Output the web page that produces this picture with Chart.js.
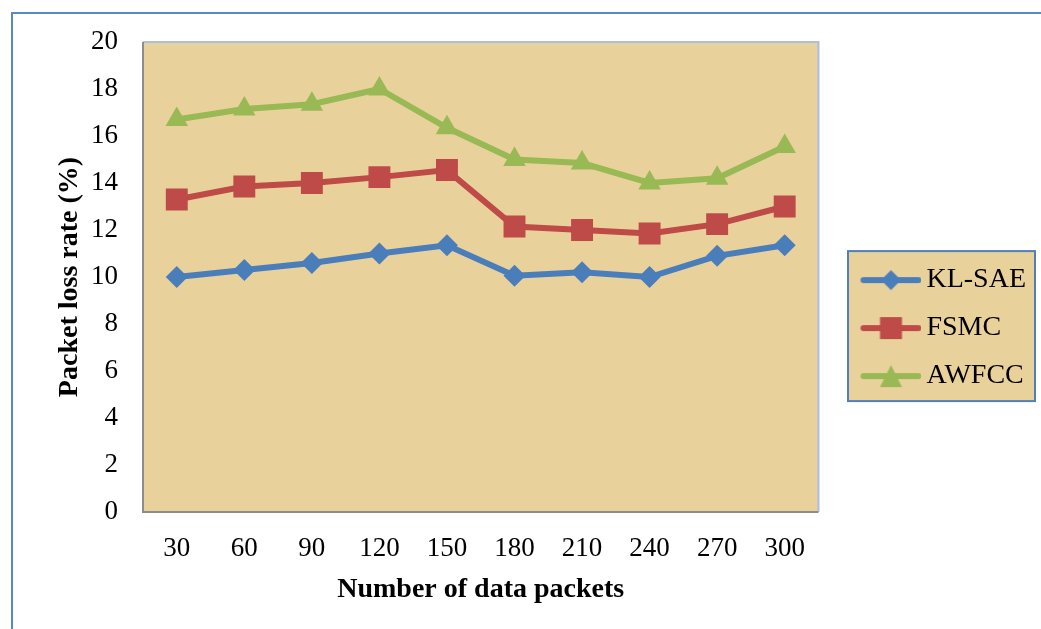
<!DOCTYPE html>
<html>
<head>
<meta charset="utf-8">
<script src="https://cdn.jsdelivr.net/npm/chart.js@4.4.0/dist/chart.umd.min.js"></script>
<style>
  html, body { margin: 0; padding: 0; background: #fff; }
  #wrap { position: relative; width: 1041px; height: 629px; }
  #frame { position: absolute; left: 11px; top: 12px; right: -10px; bottom: -10px;
           border-left: 2px solid #5a88c6; border-top: 2px solid #5a88c6; pointer-events: none; }
  canvas { position: absolute; left: 0; top: 0; }
</style>
</head>
<body>
<div id="wrap">
  <canvas id="lossChart" width="1041" height="629"></canvas>
  <div id="frame"></div>
</div>
<script>
// data
var packets = ['30', '60', '90', '120', '150', '180', '210', '240', '270', '300'];
var klSae = [10.0, 10.3, 10.6, 11.0, 11.35, 10.05, 10.2, 10.0, 10.9, 11.35];
var fsmc = [13.3, 13.85, 14.0, 14.25, 14.55, 12.15, 12.0, 11.85, 12.25, 13.0];
var awfcc = [16.7, 17.15, 17.35, 18.0, 16.35, 15.0, 14.85, 14.0, 14.2, 15.55];
var yTicks = [0, 2, 4, 6, 8, 10, 12, 14, 16, 18, 20];

var BLUE = '#4a7ebb', RED = '#be4b48', GREEN = '#98b954';
var FONT = 'Liberation Serif';
var PAPER = '#e9d19c';

// legend symbol: line with the marker in the middle (left part of image left blank on purpose)
function legendSymbol(color, style) {
    var c = document.createElement('canvas');
    c.width = 92; c.height = 26;
    var g = c.getContext('2d');
    g.strokeStyle = color; g.fillStyle = color;
    g.lineWidth = 6; g.lineCap = 'round';
    g.beginPath(); g.moveTo(34, 13); g.lineTo(89, 13); g.stroke();
    var cx = 61.5;
    g.beginPath();
    if (style === 'diamond') {
        g.moveTo(cx, 3); g.lineTo(cx + 10, 13); g.lineTo(cx, 23); g.lineTo(cx - 10, 13);
    } else if (style === 'square') {
        g.rect(cx - 11, 2, 22, 22);
    } else {
        g.moveTo(cx, 2); g.lineTo(cx + 11, 24); g.lineTo(cx - 11, 24);
    }
    g.closePath(); g.fill();
    return c;
}

var plotBack = {
    id: 'plotBack',
    beforeDatasetsDraw: function (chart) {
        var a = chart.chartArea, ctx = chart.ctx;
        ctx.save();
        ctx.fillStyle = PAPER;
        ctx.fillRect(a.left, a.top, a.right - a.left, a.bottom - a.top);
        ctx.lineWidth = 2;
        ctx.strokeStyle = '#a9c0e2';
        ctx.beginPath(); ctx.moveTo(a.left, a.top); ctx.lineTo(a.right, a.top); ctx.lineTo(a.right, a.bottom); ctx.stroke();
        ctx.strokeStyle = '#8d8d8d';
        ctx.beginPath(); ctx.moveTo(a.left, a.top); ctx.lineTo(a.left, a.bottom); ctx.lineTo(a.right, a.bottom); ctx.stroke();
        ctx.restore();
    },
    beforeDraw: function (chart) {
        var lg = chart.legend;
        if (!lg || !lg.legendHitBoxes || !lg.legendHitBoxes.length) return;
        var hb = lg.legendHitBoxes, ctx = chart.ctx;
        var first = hb[0], last = hb[hb.length - 1];
        var x0 = 848, x1 = 1035;
        var y0 = first.top + first.height / 2 - 29;
        var y1 = last.top + last.height / 2 + 25;
        ctx.save();
        ctx.fillStyle = PAPER;
        ctx.fillRect(x0, y0, x1 - x0, y1 - y0);
        ctx.strokeStyle = '#4f7fbf';
        ctx.lineWidth = 2;
        ctx.strokeRect(x0, y0, x1 - x0, y1 - y0);
        ctx.restore();
    }
};

var ctx = document.getElementById('lossChart').getContext('2d');
var chart = new Chart(ctx, {
    type: 'line',
    data: {
        labels: packets,
        datasets: [{
            label: 'KL-SAE', data: klSae,
            borderColor: BLUE, backgroundColor: BLUE,
            pointStyle: 'rectRot', pointRadius: 11,
            legendImg: legendSymbol(BLUE, 'diamond')
        }, {
            label: 'FSMC', data: fsmc,
            borderColor: RED, backgroundColor: RED,
            pointStyle: 'rect', pointRadius: 15.5,
            legendImg: legendSymbol(RED, 'square')
        }, {
            label: 'AWFCC', data: awfcc,
            borderColor: GREEN, backgroundColor: GREEN,
            pointStyle: 'triangle', pointRadius: 13,
            legendImg: legendSymbol(GREEN, 'triangle')
        }]
    },
    options: {
        responsive: false,
        animation: false,
        layout: { padding: { left: 53, right: 5, top: 42, bottom: 22 } },
        elements: {
            line: { borderWidth: 6, tension: 0 },
            point: { borderWidth: 0, hoverRadius: 12 }
        },
        scales: {
            x: {
                offset: true,
                grid: { display: false, drawTicks: false },
                border: { display: false },
                ticks: { color: '#000', padding: 21, font: { family: FONT, size: 27 } },
                title: {
                    display: true, text: 'Number of data packets', color: '#000',
                    padding: { top: 8, bottom: 0 },
                    font: { family: FONT, size: 28, weight: 'bold' }
                },
                afterFit: function (axis) { axis.height = 95; }
            },
            y: {
                min: 0, max: 20,
                afterBuildTicks: function (axis) {
                    axis.ticks = yTicks.map(function (v) { return { value: v }; });
                },
                grid: { display: false, drawTicks: false },
                border: { display: false },
                ticks: { color: '#000', padding: 25, font: { family: FONT, size: 27 } },
                title: {
                    display: true, text: 'Packet loss rate (%)', color: '#000',
                    padding: { top: 0, bottom: 0 },
                    font: { family: FONT, size: 28, weight: 'bold' }
                },
                afterFit: function (axis) { axis.width = 90; }
            }
        },
        plugins: {
            tooltip: { enabled: false },
            legend: {
                position: 'right',
                title: { display: true, text: ' ', font: { size: 1 }, padding: { top: 0, bottom: 6 } },
                labels: {
                    color: '#000',
                    font: { family: FONT, size: 28 },
                    usePointStyle: true,
                    pointStyleWidth: 74,
                    padding: 20,
                    generateLabels: function (ch) {
                        return ch.data.datasets.map(function (ds, i) {
                            return {
                                text: ds.label, pointStyle: ds.legendImg,
                                fillStyle: ds.borderColor, strokeStyle: ds.borderColor,
                                lineWidth: 0, hidden: false, datasetIndex: i, fontColor: '#000'
                            };
                        });
                    }
                }
            }
        }
    },
    plugins: [plotBack]
});
</script>
</body>
</html>
